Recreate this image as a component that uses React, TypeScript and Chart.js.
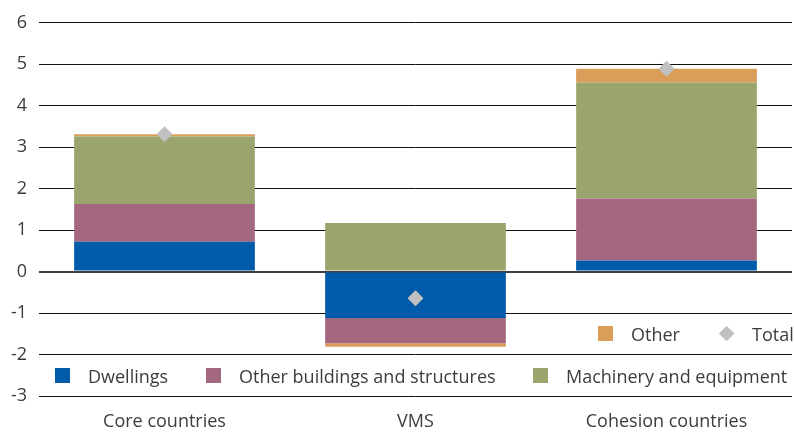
import React, { useEffect, useRef } from 'react';
import { Chart, registerables } from 'chart.js';

Chart.register(...registerables);

const categories = ['Core countries', 'VMS', 'Cohesion countries'];
const dwellings = [0.72, -1.12, 0.27];
const otherBuildings = [0.91, -0.61, 1.49];
const machinery = [1.63, 1.17, 2.8];
const other = [0.05, -0.08, 0.33];
const total = [3.31, -0.64, 4.89];
const yMin = -3;
const yMax = 6;

const COLORS = {
  dwellings: '#005BAA',
  otherBuildings: '#A3687F',
  machinery: '#9AA56D',
  other: '#DA9E5A',
  total: '#C0C0C0',
};

const FONT = "'Open Sans', 'Noto Sans', sans-serif";
const TEXT = '#3c3c3c';

const legendRow1 = [
  { label: 'Other', color: COLORS.other, shape: 'square', left: 598 },
  { label: 'Total', color: COLORS.total, shape: 'diamond', left: 718 },
];
const legendRow2 = [
  { label: 'Dwellings', color: COLORS.dwellings, shape: 'square', left: 55 },
  { label: 'Other buildings and structures', color: COLORS.otherBuildings, shape: 'square', left: 206 },
  { label: 'Machinery and equipment', color: COLORS.machinery, shape: 'square', left: 533 },
];

function LegendItem({ item, top }: { item: any; top: number }) {
  return (
    <div
      style={{
        position: 'absolute',
        left: item.left,
        top: top - 13,
        height: 26,
        display: 'flex',
        alignItems: 'center',
        whiteSpace: 'nowrap',
        fontFamily: FONT,
        fontSize: 18,
        color: TEXT,
      }}
    >
      {item.shape === 'square' ? (
        <div style={{ width: 15, height: 15, background: item.color, marginRight: 18 }} />
      ) : (
        <div style={{ width: 17, height: 17, marginRight: 17, display: 'flex', alignItems: 'center', justifyContent: 'center' }}>
          <div style={{ width: 11.3, height: 11.3, background: item.color, transform: 'rotate(45deg)' }} />
        </div>
      )}
      <span>{item.label}</span>
    </div>
  );
}

export default function App() {
  const canvasRef = useRef<HTMLCanvasElement | null>(null);

  useEffect(() => {
    const canvas = canvasRef.current;
    if (!canvas) return;
    const chart = new Chart(canvas, {
      type: 'bar',
      data: {
        labels: categories,
        datasets: [
          {
            type: 'line',
            label: 'Total',
            data: total,
            showLine: false,
            pointStyle: 'rectRot',
            pointRadius: 8,
            pointHoverRadius: 8,
            pointBackgroundColor: COLORS.total,
            pointBorderColor: COLORS.total,
            pointBorderWidth: 0,
            backgroundColor: COLORS.total,
            borderColor: COLORS.total,
            stack: 'total',
            order: -1,
          } as any,
          { label: 'Dwellings', data: dwellings, backgroundColor: COLORS.dwellings, stack: 's', order: 1 },
          { label: 'Other buildings and structures', data: otherBuildings, backgroundColor: COLORS.otherBuildings, stack: 's', order: 1 },
          { label: 'Machinery and equipment', data: machinery, backgroundColor: COLORS.machinery, stack: 's', order: 1 },
          { label: 'Other', data: other, backgroundColor: COLORS.other, stack: 's', order: 1 },
        ],
      },
      options: {
        responsive: false,
        maintainAspectRatio: false,
        animation: false,
        layout: { padding: { top: 21, right: 2, bottom: 0, left: 0 } },
        datasets: {
          bar: { categoryPercentage: 1, barPercentage: 0.72, borderWidth: 0 },
        },
        plugins: {
          legend: { display: false },
          tooltip: { enabled: false },
        },
        scales: {
          x: {
            stacked: true,
            grid: { display: false, drawTicks: false },
            border: { display: false },
            ticks: { color: TEXT, font: { family: FONT, size: 18 }, padding: 15 },
            afterFit: (scale: any) => {
              scale.height = 37;
              scale.paddingLeft = 0;
              scale.paddingRight = 0;
            },
          },
          y: {
            stacked: true,
            min: yMin,
            max: yMax,
            afterFit: (scale: any) => {
              scale.width = 39;
            },
            grid: {
              drawTicks: false,
              color: (ctx: any) => (ctx.tick && ctx.tick.value === 0 ? '#404040' : '#111111'),
              lineWidth: (ctx: any) => (ctx.tick && ctx.tick.value === 0 ? 2 : 1),
            },
            border: { display: false },
            ticks: { stepSize: 1, color: TEXT, font: { family: FONT, size: 18 }, padding: 12 },
          },
        },
      },
    });
    return () => chart.destroy();
  }, []);

  return (
    <div style={{ position: 'fixed', left: 0, top: 0, width: 794, height: 433, background: '#fff', overflow: 'hidden' }}>
      <canvas ref={canvasRef} width={800} height={433} style={{ display: 'block' }} />
      {legendRow1.map((it) => (
        <LegendItem key={it.label} item={it} top={333.5} />
      ))}
      {legendRow2.map((it) => (
        <LegendItem key={it.label} item={it} top={375.5} />
      ))}
    </div>
  );
}
